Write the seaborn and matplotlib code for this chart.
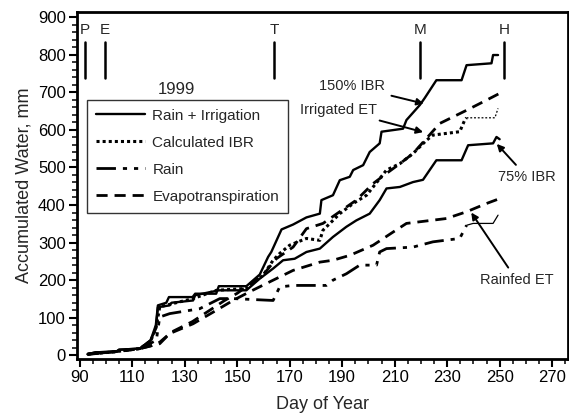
import numpy as np
import pandas as pd
import seaborn as sns
import matplotlib.pyplot as plt
from matplotlib.lines import Line2D
from matplotlib.ticker import MultipleLocator

# Day of year / accumulated water (mm)
ibr150_day = [93, 96, 104, 105, 113, 114, 117, 119, 119.8, 123, 124, 133, 134, 142, 143, 153.5,
              158.6, 161.8, 163, 166.9, 171.3, 176.4, 181.5, 182.1, 186.5, 189.1, 192.9, 194.2,
              198, 200.5, 204.3, 205, 213.2, 214.5, 219.6, 221.5, 225.9, 235.5, 237.4, 246.9,
              247.5, 249.4]
ibr150_mm = [3, 8, 10, 15, 18, 24, 40, 80, 133, 140, 155, 155, 164, 164, 184, 184,
             215, 262, 275, 335, 348, 367, 377, 413, 426, 466, 475, 493,
             506, 541, 564, 595, 603, 626, 666, 685, 732, 732, 772, 777,
             799, 799]

ibr75_day = [93, 96, 104, 105, 113, 114, 117, 119, 119.8, 124.3, 125, 133.2, 134, 143, 153.5,
             158.6, 163.7, 167.5, 171.9, 176.4, 181.5, 186.5, 191.6, 195.4, 200.5, 204.3,
             206.9, 212, 217, 220.8, 225.9, 235.5, 238, 247.5, 248.8, 250]
ibr75_mm = [3, 8, 10, 15, 18, 24, 40, 70, 128, 133, 140, 146, 160, 173, 173,
            204, 231, 253, 257, 275, 284, 315, 342, 359, 377, 413,
            444, 448, 461, 467, 519, 519, 559, 564, 581, 575]

calc_day = [93, 104, 113, 117, 119, 120.5, 125.6, 133.2, 142.1, 153.5, 157.3, 159.9, 163.7,
            166.2, 170, 176.4, 181.5, 182.7, 186.5, 189.1, 194.2, 199.3, 204.3, 206.9, 212,
            217, 222.1, 224.6, 234.8, 236.7, 237.4]
calc_mm = [3, 10, 18, 38, 70, 129, 138, 151, 173, 178, 200, 213, 253,
           271, 293, 311, 306, 333, 359, 377, 404, 426, 470, 493, 510,
           537, 572, 586, 595, 626, 632]
calc_tail_day = [237.4, 248.2, 249.4]
calc_tail_mm = [632, 632, 657]

rain_day = [93, 104, 112.9, 119.2, 120.5, 124.3, 135.7, 143.4, 148.4, 163.7, 166.2, 171.3,
            184, 186.5, 191.6, 196.7, 203.1, 204.3, 206.9, 217, 224.6, 234.8, 237.4]
rain_mm = [3, 10, 18, 40, 102, 111, 124, 151, 151, 146, 182, 186,
           186, 200, 217, 240, 240, 275, 284, 288, 302, 311, 346]
rain_tail_day = [237.4, 239.9, 247.5, 249.4]
rain_tail_mm = [346, 351, 351, 373]

et_irr_day = [93, 104, 113, 117, 120.5, 125, 133, 140, 145, 150, 155, 160, 164.9, 171.3,
              176.4, 182.7, 195.4, 201.8, 206.9, 212, 217, 227.2, 237.4, 245, 250]
et_irr_mm = [3, 10, 18, 25, 35, 62, 90, 122, 145, 165, 190, 215, 257, 288,
             337, 351, 413, 457, 484, 510, 537, 617, 652, 679, 697]

et_rain_day = [93, 104, 113, 117, 120.5, 124.3, 133.2, 142.1, 148.4, 155, 163.7, 171.3, 181.5,
               186.5, 192.9, 201.8, 209.4, 214.5, 229.7, 237.4, 245, 250]
et_rain_mm = [3, 10, 18, 25, 31, 58, 84, 120, 146, 170, 200, 226, 248,
              253, 266, 293, 328, 351, 364, 382, 404, 417]

# crop stages
stage_labels = ['P', 'E', 'T', 'M', 'H']
stage_days = [91.9, 99.5, 164.2, 219.6, 251.7]

legend_labels = ['Rain + Irrigation', 'Calculated IBR', 'Rain', 'Evapotranspiration']

sns.set_style('ticks')
plt.rcParams['font.family'] = ['Liberation Sans', 'DejaVu Sans']

solid = dict(color='black', lw=1.7, linestyle='-')
dotted = dict(color='black', lw=2.2, linestyle=(0, (1, 1)))
dashdot = dict(color='black', lw=2.0, linestyle=(0, (7, 2.5, 1.5, 2.5, 1.5, 2.5)))
dashed = dict(color='black', lw=2.0, linestyle=(0, (4, 2.5)))

fig = plt.figure(figsize=(5.69, 4.20), dpi=100)
ax = fig.add_axes([0.135, 0.145, 0.863, 0.826])

series = [
    (ibr150_day, ibr150_mm, solid),
    (ibr75_day, ibr75_mm, solid),
    (calc_day, calc_mm, dotted),
    (rain_day, rain_mm, dashdot),
    (et_irr_day, et_irr_mm, dashed),
    (et_rain_day, et_rain_mm, dashed),
]
for d, v, st in series:
    sns.lineplot(x=d, y=v, ax=ax, estimator=None, sort=False, legend=False, **st)

# thin tails
sns.lineplot(x=calc_tail_day, y=calc_tail_mm, ax=ax, estimator=None, sort=False,
             color='black', lw=0.9, linestyle=(0, (1.5, 1.5)))
sns.lineplot(x=rain_tail_day, y=rain_tail_mm, ax=ax, estimator=None, sort=False,
             color='black', lw=0.9, linestyle='-')

# stage markers
for lab, d in zip(stage_labels, stage_days):
    ax.plot([d, d], [737, 834], color='black', lw=1.8)
    ax.text(d, 865, lab, ha='center', va='center', fontsize=11)

ax.text(126.8, 706, '1999', ha='center', va='center', fontsize=12)

arrow = dict(arrowstyle='-|>', color='black', lw=1.4, mutation_scale=10)
ax.annotate('150% IBR', xy=(222.1, 668), xytext=(206.5, 716), ha='right', va='center',
            fontsize=10.5, arrowprops=arrow)
ax.annotate('Irrigated ET', xy=(221.9, 592), xytext=(203.2, 654), ha='right', va='center',
            fontsize=10.5, arrowprops=arrow)
ax.annotate('75% IBR', xy=(248.2, 568), xytext=(260.5, 474), ha='center', va='center',
            fontsize=10.5, arrowprops=arrow)
ax.annotate('Rainfed ET', xy=(238.6, 386), xytext=(256.5, 200), ha='center', va='center',
            fontsize=10.5, arrowprops=arrow)

handles = [Line2D([], [], **st) for st in (solid, dotted, dashdot, dashed)]
leg = ax.legend(handles, legend_labels, loc='upper left', bbox_to_anchor=(0.02, 0.748),
                fontsize=11, frameon=True, fancybox=False, handlelength=3.2,
                borderpad=0.6, labelspacing=0.85, handletextpad=0.5, borderaxespad=0)
leg.get_frame().set_edgecolor('black')
leg.get_frame().set_linewidth(1.0)

ax.set_xlim(88.9, 276)
ax.set_ylim(-10, 913)
ax.xaxis.set_minor_locator(MultipleLocator(5))
ax.yaxis.set_major_locator(MultipleLocator(100))
ax.yaxis.set_minor_locator(MultipleLocator(20))
ax.set_xticks(np.arange(90, 271, 20))
ax.tick_params(axis='both', which='major', direction='out', length=6, width=1.5,
               labelsize=12, colors='black', pad=2)
ax.tick_params(axis='both', which='minor', direction='out', length=3.5, width=1.3)
for s in ax.spines.values():
    s.set_linewidth(2)
    s.set_color('black')
    s.set_visible(True)

ax.set_xlabel('Day of Year', fontsize=13, labelpad=8)
ax.set_ylabel('Accumulated Water, mm', fontsize=13, labelpad=4)

fig.savefig('out.png', dpi=100)
